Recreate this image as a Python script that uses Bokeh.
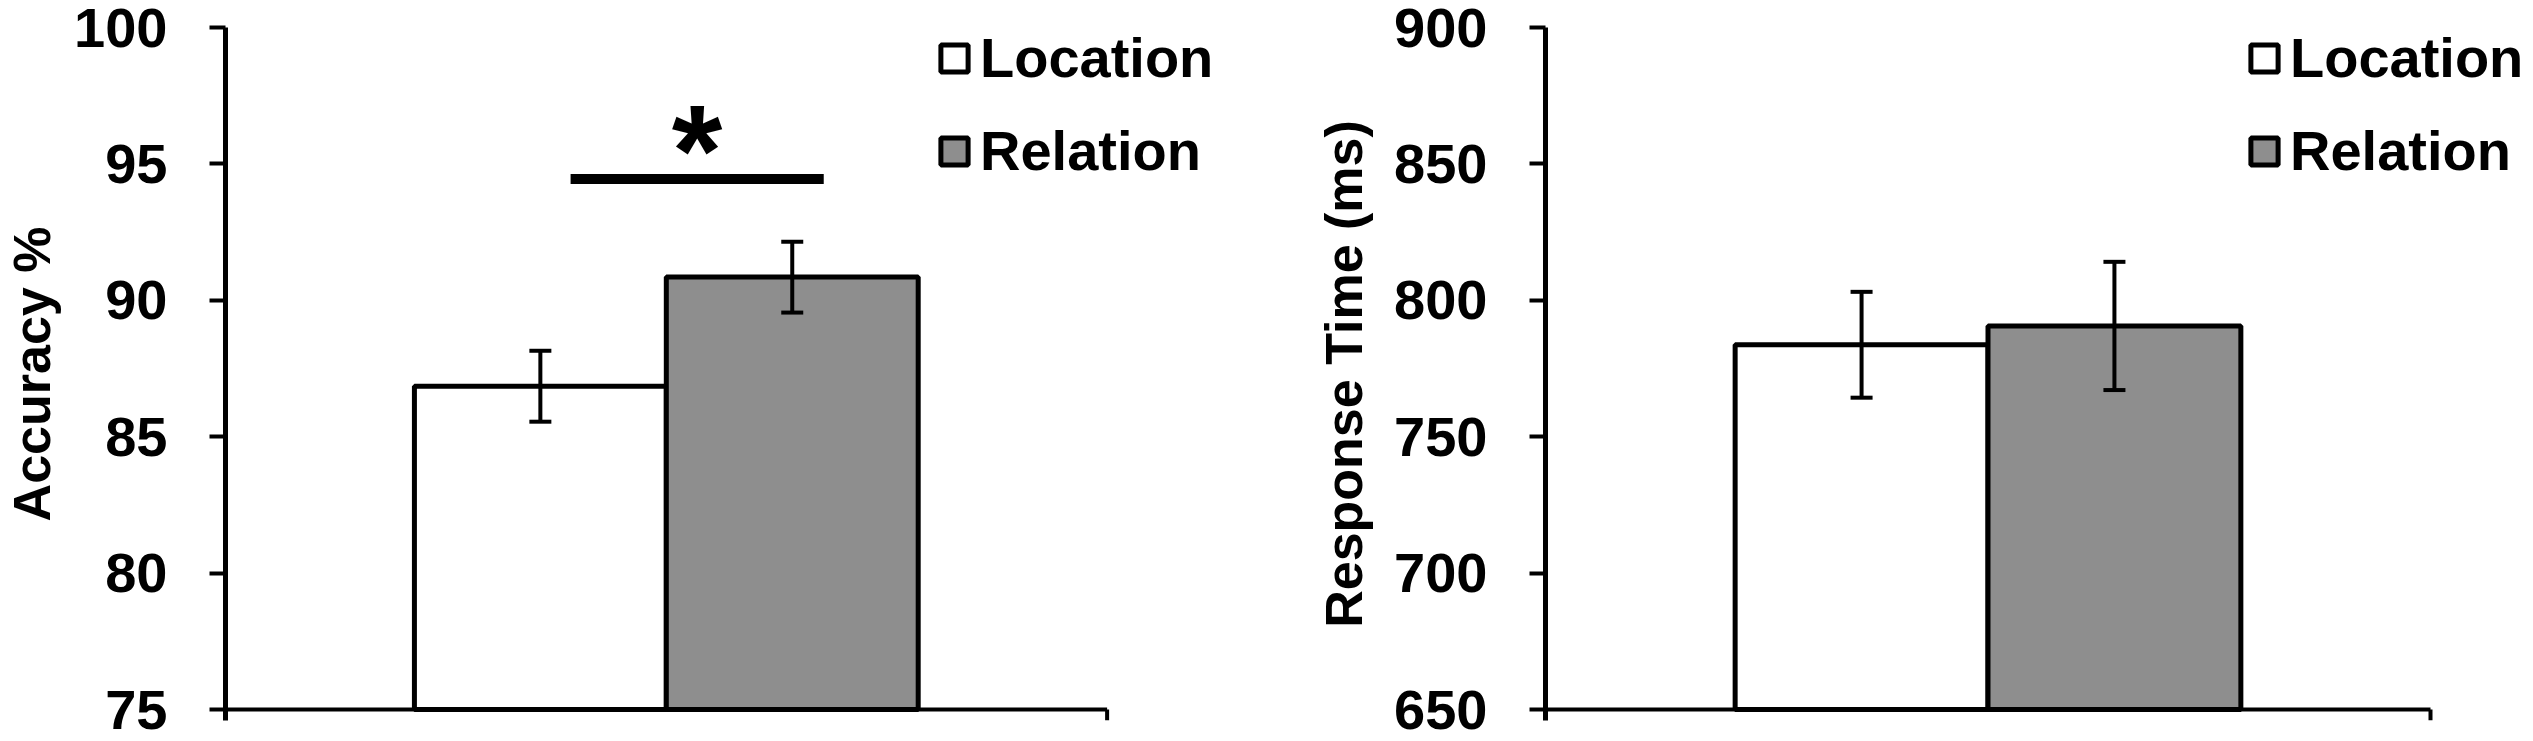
import numpy as np
from bokeh.plotting import figure
from bokeh.models import (Range1d, FixedTicker, Whisker, TeeHead, ColumnDataSource,
                          Legend, LegendItem)
from bokeh.layouts import row
from bokeh.embed import file_html
from bokeh.resources import INLINE
from bokeh.core.properties import value

# ---------------- data ----------------
conditions = ["Location", "Relation"]
accuracy = [86.85, 90.85]
accuracy_se = [1.3, 1.3]
rt = [783.7, 790.6]
rt_se = [19.4, 23.5]
acc_ticks = [75, 80, 85, 90, 95, 100]
rt_ticks = [650, 700, 750, 800, 850, 900]
acc_label = "Accuracy %"
rt_label = "Response Time (ms)"
sig_level = 94.45
sig_mark = "*"

FONT = "Liberation Sans"
fills = ["#ffffff", "#8e8e8e"]

H = 741
TOP = 27          # frame top (px)
AXIS_BOTTOM = 709  # y position of lowest tick (px)
TICK_OUT = 11
AXIS_W = 885.0    # category axis length (px)
HALF = 1.75       # category axis half-extent in data units


def make_panel(vals, errs, ticks, ylabel, width, b_left, legend_x, als, sig=None):
    lo, hi = ticks[0], ticks[-1]
    frame_h = AXIS_BOTTOM + TICK_OUT - TOP
    ppu_y = (AXIS_BOTTOM - TOP) / (hi - lo)
    y_start = lo - TICK_OUT / ppu_y
    frame_w = width - b_left
    ppu_x = AXIS_W / (2 * HALF)
    x_end = -HALF + frame_w / ppu_x

    p = figure(width=width, height=H, x_range=Range1d(-HALF, x_end), y_range=Range1d(y_start, hi),
               output_backend="svg", toolbar_location=None,
               min_border_left=b_left, min_border_right=0,
               min_border_top=TOP, min_border_bottom=H - TOP - frame_h)
    p.outline_line_color = None
    p.grid.visible = False
    p.xaxis.visible = False
    p.background_fill_color = "white"
    p.border_fill_color = "white"

    pos = np.arange(len(conditions)) - 0.5
    v = np.array(vals, dtype=float)
    e = np.array(errs, dtype=float)
    src = ColumnDataSource(dict(x=pos, top=v, lower=v - e, upper=v + e,
                                fill=fills, label=conditions))
    r = p.vbar(x="x", top="top", bottom=lo, width=1.0, source=src,
               fill_color="fill", line_color="black", line_width=5)

    # category axis line with closing tick
    p.segment(x0=[-HALF], x1=[HALF], y0=[lo], y1=[lo], line_width=4, line_color="black")
    p.segment(x0=[HALF], x1=[HALF], y0=[lo], y1=[y_start], line_width=4, line_color="black")

    w = Whisker(source=src, base="x", upper="upper", lower="lower",
                line_width=4, line_color="black", level="overlay",
                upper_head=TeeHead(size=22, line_width=4, line_color="black"),
                lower_head=TeeHead(size=22, line_width=4, line_color="black"))
    p.add_layout(w)

    if sig is not None:
        x0 = pos[0] + 0.12
        x1 = pos[1] + 0.125
        p.segment(x0=[x0], x1=[x1], y0=[sig], y1=[sig], line_width=10, line_color="black")
        p.text(x=[(x0 + x1) / 2], y=[sig], text=[sig_mark], text_font=value(FONT),
               text_font_style="bold", text_font_size="130px", text_align="center",
               text_baseline="alphabetic", y_offset=-28, text_color="black")

    items = [LegendItem(label=c, renderers=[r], index=i) for i, c in enumerate(conditions)]
    leg = Legend(items=items, location=(legend_x, 537), padding=0, spacing=28, margin=0,
                 glyph_width=34, glyph_height=34, label_standoff=9,
                 label_text_font=FONT, label_text_font_style="bold",
                 label_text_font_size="56px", label_text_color="black",
                 border_line_color=None, background_fill_alpha=0)
    p.add_layout(leg)

    ya = p.yaxis[0]
    ya.ticker = FixedTicker(ticks=ticks)
    ya.major_tick_out = 16
    ya.major_tick_in = 0
    ya.minor_tick_out = 0
    ya.minor_tick_in = 0
    ya.axis_line_width = 5
    ya.major_tick_line_width = 4
    ya.major_label_standoff = 42
    ya.major_label_text_font = FONT
    ya.major_label_text_font_style = "bold"
    ya.major_label_text_font_size = "56px"
    ya.major_label_text_color = "black"
    ya.axis_label = ylabel
    ya.axis_label_text_font = FONT
    ya.axis_label_text_font_style = "bold"
    ya.axis_label_text_font_size = "52px"
    ya.axis_label_text_color = "black"
    ya.axis_label_standoff = als
    return p


p1 = make_panel(accuracy, accuracy_se, acc_ticks, acc_label, 1266, 221, 712, 10, sig=sig_level)
p2 = make_panel(rt, rt_se, rt_ticks, rt_label, 1264, 279, 702, 18)

layout = row(p1, p2)
open("out.html", "w").write(file_html(layout, INLINE))
